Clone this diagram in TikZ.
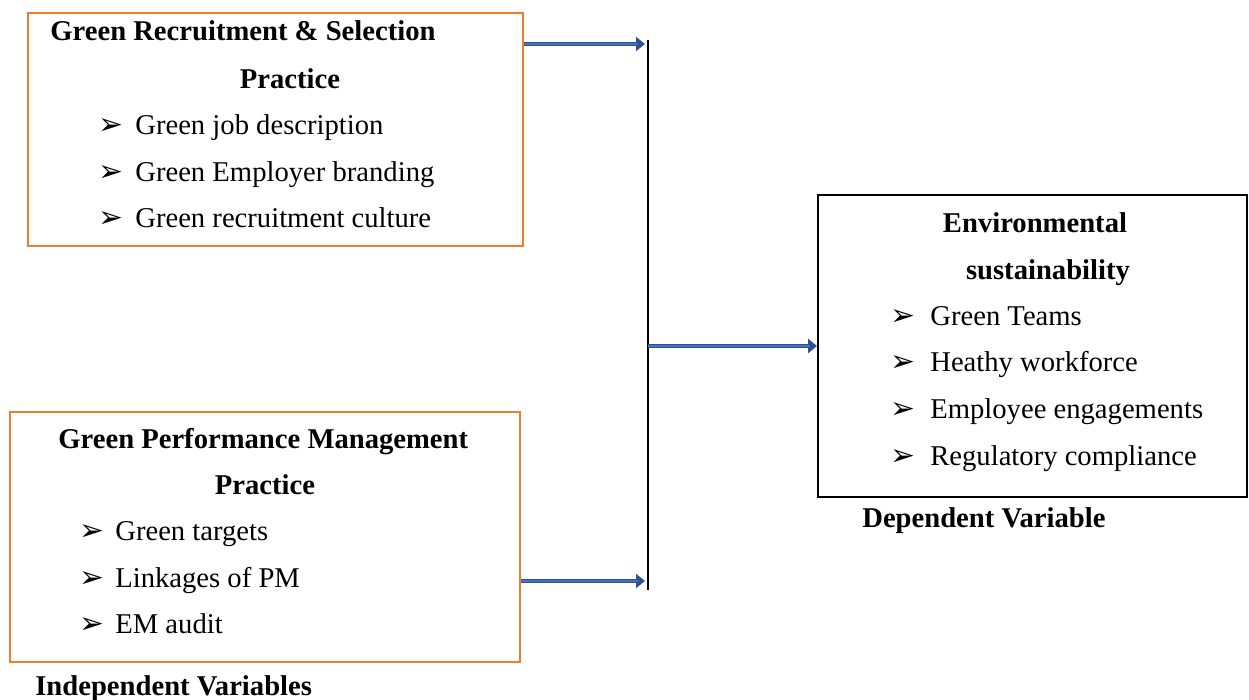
\documentclass[tikz,border=0pt]{standalone}
\usepackage{fontspec}
\setmainfont{Liberation Serif}
\newfontfamily\symfont{DejaVu Sans}
\usepackage{tikz}
\usetikzlibrary{arrows.meta}
\definecolor{boxorange}{HTML}{ED7D31}
\definecolor{arrowblue}{HTML}{4472C4}
\definecolor{arrowdark}{HTML}{2F528F}
\newcommand{\pt}{{\symfont\fontsize{17}{17}\selectfont ➢}}
\tikzset{
  obox/.style={draw=boxorange, line width=1.1pt, inner sep=0pt},
  kbox/.style={draw=black, line width=1.1pt, inner sep=0pt},
  head/.style={font=\fontsize{16.3}{18}\selectfont\bfseries, inner sep=0pt, yshift=-0.09cm},
  item/.style={font=\fontsize{16.3}{18}\selectfont, inner sep=0pt, anchor=mid west, yshift=-0.09cm},
  fatarrow/.style={draw=arrowdark, line width=2.8pt, -{Triangle[length=0.18cm,width=0.28cm]}}
}
\begin{document}
\begin{tikzpicture}[x=0.02cm, y=-0.02cm]
\useasboundingbox (0,0) rectangle (1249,700);
%
% boxes
\node[obox, minimum width=9.9cm, minimum height=4.66cm] (recr) at (275.5,129.5) {};
\node[obox, minimum width=10.2cm, minimum height=5cm] (perf) at (265,537) {};
\node[kbox, minimum width=8.58cm, minimum height=6.04cm] (env) at (1032.5,346) {};

% recruitment
\node[head, anchor=mid west] (recrt1) at (50,32) {Green Recruitment \& Selection};
\node[head, anchor=mid] (recrt2) at (290,80) {Practice};
\foreach \y/\t [count=\i] in {126/Green job description,173/Green Employer branding,219/Green recruitment culture} {
\node[item] (recrb\i) at (98,\y) {\pt};
\node[item] (recri\i) at (135,\y) {\t};
}

% performance
\node[head, anchor=mid west] (perft1) at (58,440) {Green Performance Management};
\node[head, anchor=mid] (perft2) at (265,486) {Practice};
\foreach \y/\t [count=\i] in {532/Green targets,579/Linkages of PM,625/EM audit} {
\node[item] (perfb\i) at (79,\y) {\pt};
\node[item] (perfi\i) at (115,\y) {\t};
}

% environmental
\node[head, anchor=mid] (envt1) at (1035,224) {Environmental};
\node[head, anchor=mid] (envt2) at (1048,271) {sustainability};
\foreach \y/\t [count=\i] in {317/Green Teams,363/Heathy workforce,410/Employee engagements,457/Regulatory compliance} {
\node[item] (envb\i) at (890,\y) {\pt};
\node[item] (envi\i) at (930,\y) {\t};
}

% captions
\node[head, anchor=mid west] (dep) at (862,519) {Dependent Variable};
\node[head, anchor=mid west] (indep) at (35,687) {Independent Variables};

% bar and arrows
\coordinate (top) at (648,40);
\coordinate (bot) at (648,590);
\coordinate (in1) at (645,44);
\coordinate (in2) at (645,581);
\draw[line width=1.7pt] (top) -- (bot);
\draw[fatarrow] (recr.east |- in1) -- (in1);
\draw[fatarrow] (perf.east |- in2) -- (in2);
\draw[fatarrow] (top |- env.west) -- (env.west);
\foreach \a/\b in {recr.east |- in1/in1, perf.east |- in2/in2, top |- env.west/env.west} {
\draw[arrowblue, line width=1.2pt, shorten >=4pt] (\a) -- (\b);
}
\end{tikzpicture}
\end{document}
